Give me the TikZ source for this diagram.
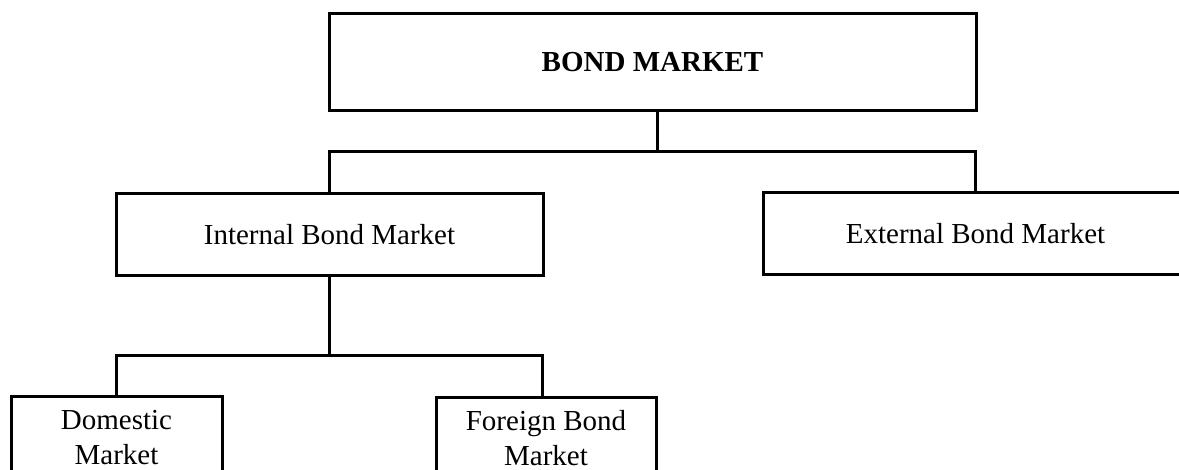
\documentclass[tikz,border=0pt]{standalone}
\usepackage{fontspec}
\setmainfont{Liberation Serif}
\begin{document}
\begin{tikzpicture}[x=1pt,y=-1pt,
  box/.style={draw, line width=3pt, inner sep=0pt, align=center, font=\fontsize{29}{35}\selectfont},
  conn/.style={line width=3pt}]
\useasboundingbox (0,0) rectangle (1179,470);
\clip (0,0) rectangle (1179,470);
\node[box, minimum width=647pt, minimum height=97pt] (bm) at (652.5,62.5) {\textbf{BOND MARKET}};
\node[box, minimum width=427pt, minimum height=82pt] (int) at (329.5,235) {Internal Bond Market};
\node[box, minimum width=425pt, minimum height=82pt] (ext) at (975.5,234) {External Bond Market};
\node[box, minimum width=211pt, minimum height=82pt] (dom) at (116.5,438) {Domestic\\Market};
\node[box, minimum width=220pt, minimum height=80pt] (for) at (546,438) {Foreign Bond\\Market};
\coordinate (j1) at (657,152);
\coordinate (j2) at (329.5,356);
\draw[conn] (bm.south -| j1) -- (j1);
\draw[conn] (int.north) |- (j1) -| (ext.north);
\draw[conn] (int.south) -- (j2);
\draw[conn] (dom.north) |- (j2) -| ([xshift=-4pt]for.north);
\end{tikzpicture}
\end{document}
